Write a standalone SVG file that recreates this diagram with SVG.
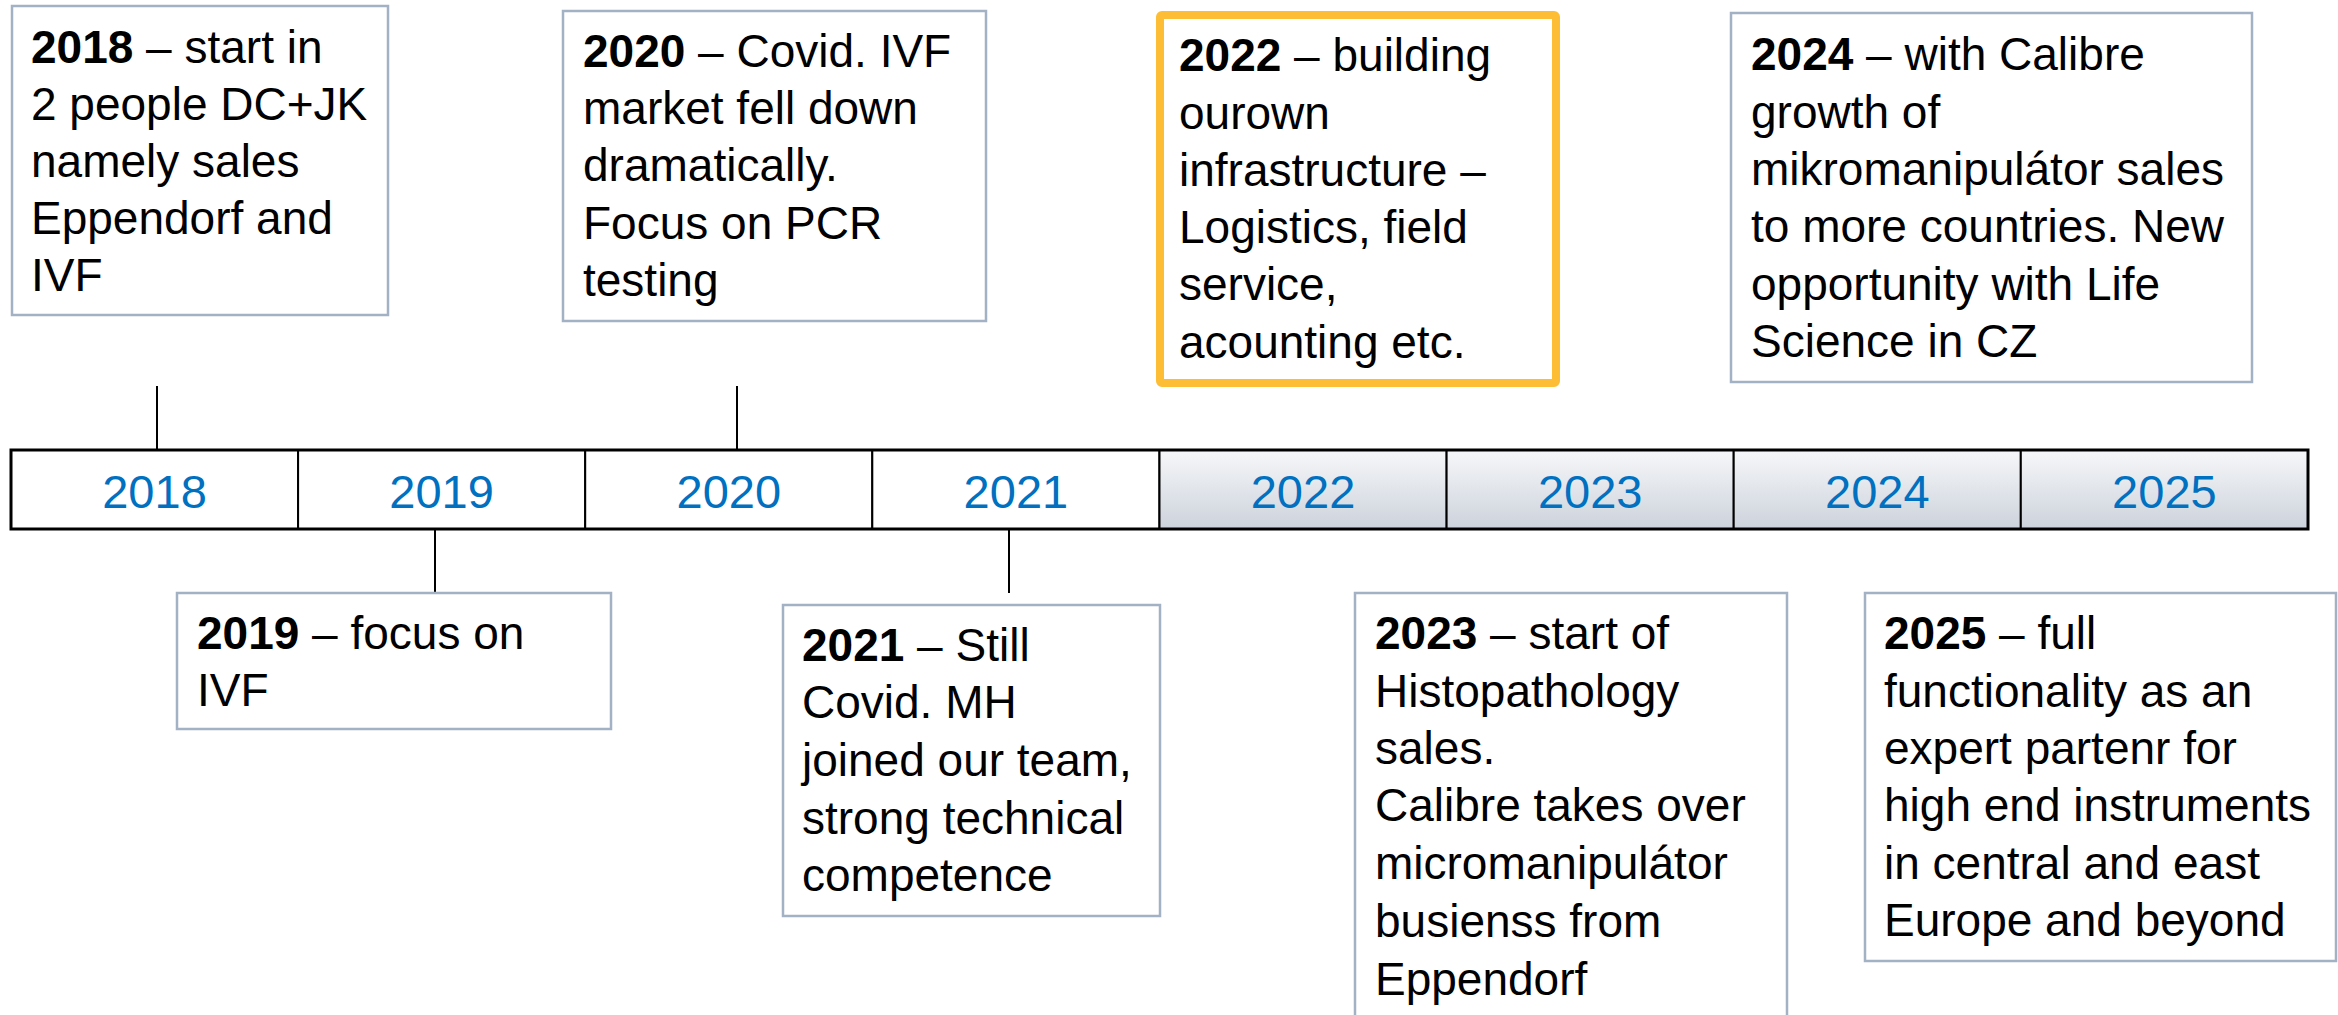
<svg xmlns="http://www.w3.org/2000/svg" width="2338" height="1015" viewBox="0 0 2338 1015">
<style>
text{font-family:"Liberation Sans",Arial,sans-serif;fill:#000}
.t{font-size:46px}
.b{font-weight:bold}
.yr{font-size:47px;fill:#0070C0;text-anchor:middle}
.box{fill:#fff;stroke:#A3B1C4;stroke-width:2.5}
.hbox{fill:#fff;stroke:#FDBD34;stroke-width:8}
.cell{fill:#fff;stroke:#000;stroke-width:2}
.gcell{fill:url(#g);stroke:#000;stroke-width:2}
.tk{stroke:#000;stroke-width:2;fill:none}
.ot{stroke:#E9A430;stroke-width:5;fill:none;filter:url(#sh)}
</style>
<defs>
<linearGradient id="g" x1="0" y1="0" x2="0" y2="1">
<stop offset="0" stop-color="#F6F7F9"/>
<stop offset="1" stop-color="#CDD3DC"/>
</linearGradient>
<filter id="sh" x="-200%" y="-20%" width="500%" height="140%">
<feGaussianBlur in="SourceAlpha" stdDeviation="2"/>
<feOffset dx="3" dy="3" result="b"/>
<feComponentTransfer><feFuncA type="linear" slope="0.45"/></feComponentTransfer>
<feMerge><feMergeNode/><feMergeNode in="SourceGraphic"/></feMerge>
</filter>
</defs>
<rect width="2338" height="1015" fill="#fff"/>

<g id="connectors">
<line class="tk" x1="157" y1="386" x2="157" y2="450"/>
<line class="tk" x1="737" y1="386" x2="737" y2="450"/>
<line class="tk" x1="435" y1="529" x2="435" y2="593"/>
<line class="tk" x1="1009" y1="529" x2="1009" y2="593"/>
<line class="ot" x1="1307" y1="387" x2="1307" y2="450"/>
<line class="ot" x1="1877" y1="387" x2="1877" y2="450"/>
<line class="ot" x1="1589" y1="529" x2="1589" y2="593"/>
<line class="ot" x1="2165" y1="529" x2="2165" y2="593"/>
</g>

<g id="timeline">
<rect class="cell" x="11" y="450" width="287.1" height="79"/>
<rect class="cell" x="298.1" y="450" width="287.1" height="79"/>
<rect class="cell" x="585.2" y="450" width="287.1" height="79"/>
<rect class="cell" x="872.3" y="450" width="287.1" height="79"/>
<rect class="gcell" x="1159.5" y="450" width="287.1" height="79"/>
<rect class="gcell" x="1446.6" y="450" width="287.1" height="79"/>
<rect class="gcell" x="1733.7" y="450" width="287.1" height="79"/>
<rect class="gcell" x="2020.8" y="450" width="287.2" height="79"/>
<rect x="11" y="450" width="2297" height="79" fill="none" stroke="#000" stroke-width="3"/>
<text class="yr" x="154.5" y="508">2018</text>
<text class="yr" x="441.6" y="508">2019</text>
<text class="yr" x="728.8" y="508">2020</text>
<text class="yr" x="1015.9" y="508">2021</text>
<text class="yr" x="1303" y="508">2022</text>
<text class="yr" x="1590.2" y="508">2023</text>
<text class="yr" x="1877.3" y="508">2024</text>
<text class="yr" x="2164.4" y="508">2025</text>
</g>

<g id="n2018">
<rect class="box" x="12" y="6" width="376" height="309"/>
<text class="t" x="31" y="63"><tspan class="b">2018</tspan> – start in</text>
<text class="t" x="31" y="120">2 people DC+JK</text>
<text class="t" x="31" y="177">namely sales</text>
<text class="t" x="31" y="234">Eppendorf and</text>
<text class="t" x="31" y="291">IVF</text>
</g>

<g id="n2020">
<rect class="box" x="563" y="11" width="423" height="310"/>
<text class="t" x="583" y="67"><tspan class="b">2020</tspan> – Covid. IVF</text>
<text class="t" x="583" y="124">market fell down</text>
<text class="t" x="583" y="181">dramatically.</text>
<text class="t" x="583" y="239">Focus on PCR</text>
<text class="t" x="583" y="296">testing</text>
</g>

<g id="n2022">
<rect class="hbox" x="1160" y="15" width="396" height="368" rx="2"/>
<text class="t" x="1179" y="71"><tspan class="b">2022</tspan> – building</text>
<text class="t" x="1179" y="129">ourown</text>
<text class="t" x="1179" y="186">infrastructure –</text>
<text class="t" x="1179" y="243">Logistics, field</text>
<text class="t" x="1179" y="300">service,</text>
<text class="t" x="1179" y="358">acounting etc.</text>
</g>

<g id="n2024">
<rect class="box" x="1731" y="13" width="521" height="369"/>
<text class="t" x="1751" y="70"><tspan class="b">2024</tspan> – with Calibre</text>
<text class="t" x="1751" y="128">growth of</text>
<text class="t" x="1751" y="185">mikromanipulátor sales</text>
<text class="t" x="1751" y="242">to more countries. New</text>
<text class="t" x="1751" y="300">opportunity with Life</text>
<text class="t" x="1751" y="357">Science in CZ</text>
</g>

<g id="n2019">
<rect class="box" x="177" y="593" width="434" height="136"/>
<text class="t" x="197" y="649"><tspan class="b">2019</tspan> – focus on</text>
<text class="t" x="197" y="706">IVF</text>
</g>

<g id="n2021">
<rect class="box" x="783" y="605" width="377" height="311"/>
<text class="t" x="802" y="661"><tspan class="b">2021</tspan> – Still</text>
<text class="t" x="802" y="718">Covid. MH</text>
<text class="t" x="802" y="776">joined our team,</text>
<text class="t" x="802" y="834">strong technical</text>
<text class="t" x="802" y="891">competence</text>
</g>

<g id="n2023">
<rect class="box" x="1355" y="593" width="432" height="440"/>
<text class="t" x="1375" y="649"><tspan class="b">2023</tspan> – start of</text>
<text class="t" x="1375" y="707">Histopathology</text>
<text class="t" x="1375" y="764">sales.</text>
<text class="t" x="1375" y="821">Calibre takes over</text>
<text class="t" x="1375" y="879">micromanipulátor</text>
<text class="t" x="1375" y="937">busienss from</text>
<text class="t" x="1375" y="995">Eppendorf</text>
</g>

<g id="n2025">
<rect class="box" x="1865" y="593" width="471" height="368"/>
<text class="t" x="1884" y="649"><tspan class="b">2025</tspan> – full</text>
<text class="t" x="1884" y="707">functionality as an</text>
<text class="t" x="1884" y="764">expert partenr for</text>
<text class="t" x="1884" y="821">high end instruments</text>
<text class="t" x="1884" y="879">in central and east</text>
<text class="t" x="1884" y="936">Europe and beyond</text>
</g>
</svg>
